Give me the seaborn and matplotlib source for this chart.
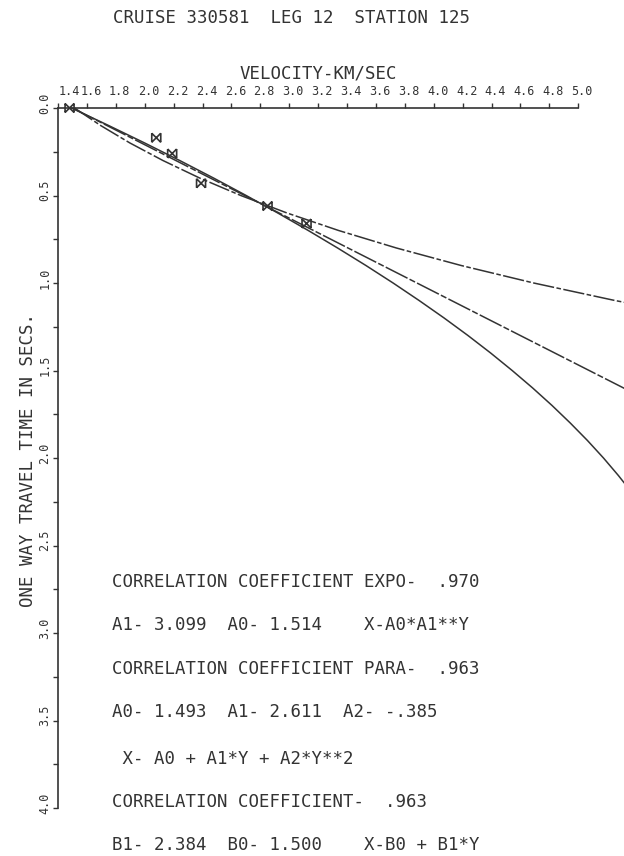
import matplotlib
matplotlib.use("Agg")
import matplotlib.pyplot as plt
import seaborn as sns
import numpy as np
import pandas as pd
from matplotlib.path import Path
from matplotlib.transforms import ScaledTranslation

# ---------------- data ----------------
# observed picks: velocity (km/s) vs one-way travel time (s)
obs_velocity = [1.48, 2.08, 2.19, 2.39, 2.85, 3.12]
obs_time = [0.00, 0.17, 0.26, 0.43, 0.56, 0.66]

# exponential fit curve (X = A0*A1**Y)
exp_time = [0.0, 0.1, 0.2, 0.3, 0.4, 0.5, 0.6, 0.7, 0.8, 0.9, 1.0, 1.1, 1.2]
exp_velocity = [1.514, 1.695, 1.898, 2.126, 2.380, 2.665, 2.985, 3.342, 3.742,
                4.190, 4.692, 5.254, 5.883]

# parabolic fit curve (X = A0 + A1*Y + A2*Y**2)
para_time = [0.0, 0.1, 0.2, 0.3, 0.4, 0.5, 0.6, 0.7, 0.8, 0.9, 1.0, 1.1, 1.2,
             1.3, 1.4, 1.5, 1.6, 1.7, 1.8, 1.9, 2.0, 2.1, 2.2, 2.3]
para_velocity = [1.493, 1.750, 2.000, 2.242, 2.476, 2.702, 2.921, 3.132, 3.335,
                 3.531, 3.719, 3.899, 4.072, 4.237, 4.394, 4.543, 4.685, 4.819,
                 4.945, 5.064, 5.175, 5.278, 5.374, 5.462]

# linear fit curve (X = B0 + B1*Y)
lin_time = [0.0, 0.5, 1.0, 1.5, 1.8]
lin_velocity = [1.500, 2.692, 3.884, 5.076, 5.791]

x_ticks = [1.4, 1.6, 1.8, 2.0, 2.2, 2.4, 2.6, 2.8, 3.0, 3.2, 3.4, 3.6, 3.8,
           4.0, 4.2, 4.4, 4.6, 4.8, 5.0]
x_tick_labels = ["1.4", "1.6", "1.8", "2.0", "2.2", "2.4", "2.6", "2.8", "3.0",
                 "3.2", "3.4", "3.6", "3.8", "4.0", "4.2", "4.4", "4.6", "4.8",
                 "5.0"]
y_ticks = [0.0, 0.5, 1.0, 1.5, 2.0, 2.5, 3.0, 3.5, 4.0]
y_tick_labels = ["0.0", "0.5", "1.0", "1.5", "2.0", "2.5", "3.0", "3.5", "4.0"]
y_minor_ticks = [0.25, 0.75, 1.25, 1.75, 2.25, 2.75, 3.25, 3.75]

title = "CRUISE 330581  LEG 12  STATION 125"
x_label = "VELOCITY-KM/SEC"
y_label = "ONE WAY TRAVEL TIME IN SECS."
notes = [
    "CORRELATION COEFFICIENT EXPO-  .970",
    "A1- 3.099  A0- 1.514    X-A0*A1**Y",
    "CORRELATION COEFFICIENT PARA-  .963",
    "A0- 1.493  A1- 2.611  A2- -.385",
    " X- A0 + A1*Y + A2*Y**2",
    "CORRELATION COEFFICIENT-  .963",
    "B1- 2.384  B0- 1.500    X-B0 + B1*Y",
]
note_y_px = [582, 625, 669, 712, 759, 802, 845]

# ---------------- styling ----------------
sns.set_theme(style="white")
plt.rcParams["font.family"] = ["DejaVu Sans Mono", "DejaVu Sans"]
INK = "#333333"

W, H = 624, 856
fig = plt.figure(figsize=(W / 100, H / 100), dpi=100)
fig.patch.set_facecolor("white")
ax = fig.add_axes([58 / W, 0, 566 / W, 748 / H])
ax.set_facecolor("white")

# curves
curves = [
    (exp_velocity, exp_time, (0, (14, 1.6, 3, 1.6))),
    (lin_velocity, lin_time, (0, (16, 1.5, 4, 1.5))),
    (para_velocity, para_time, "-"),
]
for xv, yv, ls in curves:
    sns.lineplot(x=xv, y=yv, sort=False, estimator=None, ax=ax, color=INK,
                 linewidth=1.1, linestyle=ls, clip_on=False)

# observation markers (bow-tie shape)
bowtie = Path([(-1, -1), (1, 1), (-1, 1), (1, -1), (-1, -1), (-1, 1), (1, -1), (1, 1)],
              [Path.MOVETO, Path.LINETO, Path.MOVETO, Path.LINETO,
               Path.MOVETO, Path.LINETO, Path.MOVETO, Path.LINETO])
obs_df = pd.DataFrame({"velocity": obs_velocity, "time": obs_time})
sns.scatterplot(data=obs_df, x="velocity", y="time", ax=ax, marker=bowtie, s=42,
                facecolor="none", edgecolor=INK, linewidth=1.2, clip_on=False,
                zorder=5)

ax.set_xlim(1.4, 1.4 + 566 / 144.5)
ax.set_ylim(748 / 175.0, 0)

# axes lines
for s in ["right", "bottom"]:
    ax.spines[s].set_visible(False)
ax.spines["top"].set_bounds(1.4, 5.0)
ax.spines["left"].set_bounds(0, 4.0)
for s in ["top", "left"]:
    ax.spines[s].set_color(INK)
    ax.spines[s].set_linewidth(1.2)

# x ticks on top
ax.xaxis.tick_top()
ax.set_xticks(x_ticks)
ax.set_xticklabels(x_tick_labels)
ax.tick_params(axis="x", which="major", top=True, bottom=False, direction="out",
               length=3.6, width=1.0, color=INK, pad=3.5, labelsize=8.5,
               labelcolor=INK)
for i, lab in enumerate(ax.get_xticklabels()):
    if i == 0:
        lab.set_horizontalalignment("left")
        lab.set_transform(lab.get_transform() + ScaledTranslation(1 / 100, 0, fig.dpi_scale_trans))
    else:
        lab.set_transform(lab.get_transform() + ScaledTranslation(4 / 100, 0, fig.dpi_scale_trans))

# y ticks
ax.set_yticks(y_ticks)
ax.set_yticklabels(y_tick_labels)
ax.set_yticks(y_minor_ticks, minor=True)
ax.tick_params(axis="y", which="both", left=True, right=False, direction="out",
               length=3.6, width=1.0, color=INK)
ax.tick_params(axis="y", which="major", pad=1.0, labelsize=8.5, labelcolor=INK,
               labelrotation=90)
for lab in ax.get_yticklabels():
    lab.set_verticalalignment("center")
    lab.set_transform(lab.get_transform() + ScaledTranslation(0, 5 / 100, fig.dpi_scale_trans))

ax.grid(False)

# axis labels
ax.set_xlabel(x_label, fontsize=12.5, color=INK)
ax.xaxis.set_label_position("top")
ax.xaxis.label.set_verticalalignment("center")
ax.xaxis.set_label_coords((318.5 - 58) / 566, 1 + 35 / 748)

ax.set_ylabel(y_label, fontsize=12.5, color=INK)
ax.yaxis.label.set_verticalalignment("center")
ax.yaxis.set_label_coords(-30 / 566, (856 - 460) / 748)

# title and annotation block
fig.text(113 / W, 1 - 18 / H, title, fontsize=12.5, color=INK, ha="left", va="center")
for txt, ypx in zip(notes, note_y_px):
    fig.text(112 / W, 1 - ypx / H, txt, fontsize=12.5, color=INK, ha="left", va="center")

fig.savefig("out.png", dpi=100, facecolor="white")
